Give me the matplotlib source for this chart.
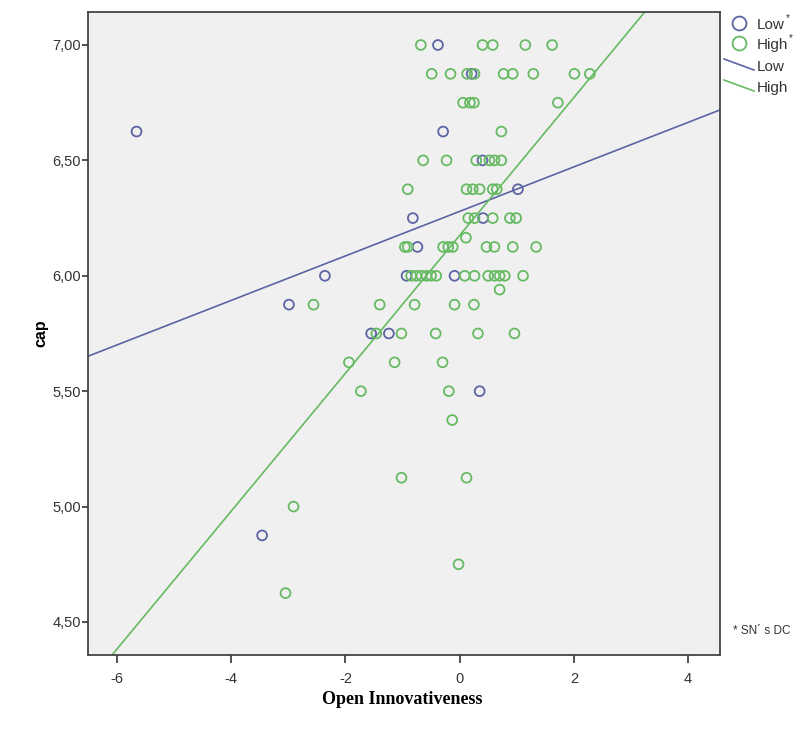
import numpy as np
import matplotlib.pyplot as plt
from matplotlib.lines import Line2D

# scatter points
low_x = [-5.66, -0.38, 0.21, -0.29, 0.40, 1.02, -0.82, 0.41, -0.74, -2.36,
         -0.93, -0.09, -2.99, -1.55, -1.24, 0.35, -3.46]
low_y = [6.625, 7.00, 6.875, 6.625, 6.50, 6.375, 6.25, 6.25, 6.125, 6.00,
         6.00, 6.00, 5.875, 5.75, 5.75, 5.50, 4.875]

high_x = [-0.68, 0.40, 0.58, 1.15, 1.62,
          -0.49, -0.16, 0.13, 0.26, 0.77, 0.93, 1.29, 2.01, 2.28,
          0.06, 0.18, 0.25, 1.72,
          0.73,
          -0.64, -0.23, 0.29, 0.52, 0.61, 0.73,
          -0.91, 0.12, 0.23, 0.35, 0.58, 0.65,
          0.15, 0.26, 0.58, 0.88, 0.99,
          0.11,
          -0.96, -0.91, -0.29, -0.20, -0.12, 0.47, 0.61, 0.93, 1.34,
          -0.85, -0.76, -0.67, -0.58, -0.50, -0.41, 0.09, 0.26, 0.50, 0.61, 0.70, 0.79, 1.11,
          0.70,
          -2.56, -1.40, -0.79, -0.09, 0.25,
          -1.46, -1.02, -0.42, 0.32, 0.96,
          -1.94, -1.14, -0.30,
          -1.73, -0.19,
          -0.13,
          -1.02, 0.12,
          -2.91,
          -0.02,
          -3.05]
high_y = [7.00] * 5 + [6.875] * 9 + [6.75] * 4 + [6.625] + [6.50] * 6 + \
         [6.375] * 6 + [6.25] * 5 + [6.165] + [6.125] * 9 + [6.00] * 13 + \
         [5.94] + [5.875] * 5 + [5.75] * 5 + [5.625] * 3 + [5.50] * 2 + \
         [5.375] + [5.125] * 2 + [5.00] + [4.75] + [4.625]

# fit lines (slope, intercept)
low_fit = (0.0964, 6.279)
high_fit = (0.2986, 6.175)

x_ticks = [-6, -4, -2, 0, 2, 4]
y_ticks = [4.5, 5.0, 5.5, 6.0, 6.5, 7.0]
y_labels = ['4,50', '5,00', '5,50', '6,00', '6,50', '7,00']

blue = '#5b64a4'
green = '#66ba62'

plt.rcParams['font.family'] = ['Liberation Sans', 'DejaVu Sans']
plt.rcParams['axes.unicode_minus'] = False

fig = plt.figure(figsize=(8.11, 7.40), dpi=100)
ax = fig.add_axes([0.1085, 0.1149, 0.7793, 0.8689])
ax.set_facecolor('#f0f0f0')

xlim = (-6.51, 4.56)
ylim = (4.357, 7.143)

xs = np.array(xlim)
ax.plot(xs, low_fit[0] * xs + low_fit[1], color=blue, lw=1.2, zorder=2)
ax.plot(xs, high_fit[0] * xs + high_fit[1], color=green, lw=1.2, zorder=2)

ax.scatter(low_x, low_y, s=50, facecolors='none', edgecolors=blue, linewidths=1.3, zorder=3)
ax.scatter(high_x, high_y, s=50, facecolors='none', edgecolors=green, linewidths=1.3, zorder=3)

ax.set_xlim(xlim)
ax.set_ylim(ylim)
ax.set_xticks(x_ticks)
ax.set_yticks(y_ticks)
ax.set_yticklabels(y_labels)
ax.tick_params(axis='both', direction='out', width=1.2, color='#333333',
               labelsize=10.5, labelcolor='#333333')
ax.tick_params(axis='y', length=4, pad=1)
ax.tick_params(axis='x', length=6, pad=6)
for sp in ax.spines.values():
    sp.set_color('#444444')
    sp.set_linewidth(1.3)

ax.set_ylabel('cap', fontsize=11.5, fontweight='bold', labelpad=3)
fig.text(402 / 811, 1 - 700 / 740, 'Open Innovativeness', ha='center', va='center',
         fontsize=13, fontweight='bold', family=['Liberation Serif', 'DejaVu Serif'])

# legend drawn outside on the right
def fx(px):
    return px / 811

def fy(py):
    return 1 - py / 740

legend_rows = [('Low', blue, 'marker', 25), ('High', green, 'marker', 45),
               ('Low', blue, 'line', 67), ('High', green, 'line', 88)]
for label, col, kind, py in legend_rows:
    if kind == 'marker':
        fig.add_artist(Line2D([fx(739)], [fy(py - 2)], marker='o', markersize=10,
                              markerfacecolor='none', markeredgecolor=col,
                              markeredgewidth=1.3, linestyle='none'))
        fig.text(fx(757), fy(py), label, fontsize=11, color='#333333', va='center')
        off = 29 if label == 'Low' else 32
        fig.text(fx(757 + off), fy(py - 7), '*', fontsize=7, color='#333333', va='center')
    else:
        fig.add_artist(Line2D([fx(724), fx(754)], [fy(py - 8), fy(py + 3)], color=col, lw=1.2))
        fig.text(fx(757), fy(py), label, fontsize=11, color='#333333', va='center')

fig.text(fx(733), fy(631), '* SN´ s DC', fontsize=8.5, color='#333333', va='center')

fig.savefig('out.png', dpi=100, facecolor='white')
